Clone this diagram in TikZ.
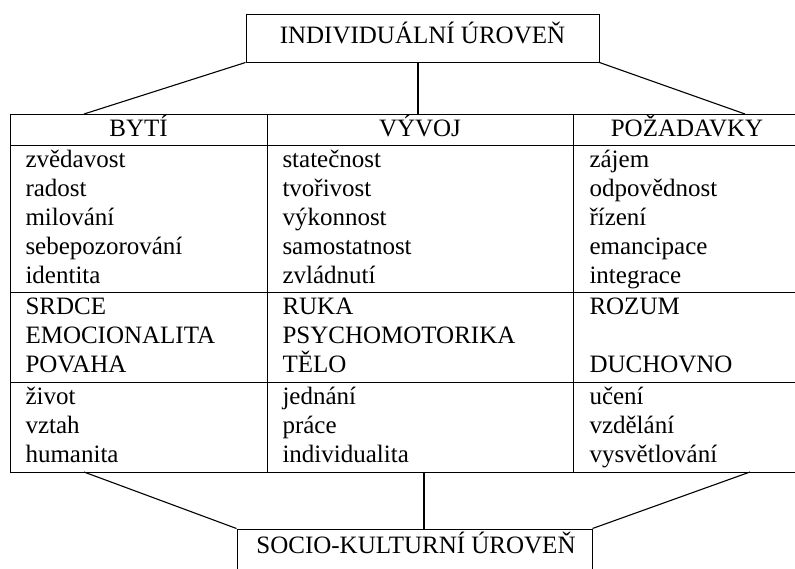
\documentclass[tikz,border=0pt]{standalone}
\usepackage{fontspec}
\setmainfont{Liberation Serif}
\begin{document}
\begin{tikzpicture}[x=1pt,y=-1pt,line width=1pt,
  txt/.style={font=\fontsize{25}{29}\selectfont,inner sep=0pt,anchor=base west},
  hdr/.style={font=\fontsize{25}{29}\selectfont,inner sep=0pt,anchor=base},
  lvlbox/.style={draw,inner sep=0pt,minimum height=48pt},
  conn/.style={line width=1.1pt}]
\useasboundingbox (0,0) rectangle (795,568);
\clip (0,0) rectangle (795,568);
% level boxes
\node[lvlbox,minimum width=353pt] (ind) at (422.5,38) {};
\node[hdr] (indt) at (422.5,43) {INDIVIDUÁLNÍ ÚROVEŇ};
\node[lvlbox,minimum width=355pt] (soc) at (414.5,553) {};
\node[hdr] (soct) at (416,553) {SOCIO-KULTURNÍ ÚROVEŇ};
% table
\draw (10,114) rectangle (801,472);
\draw (10,145) -- (801,145);
\draw (10,292) -- (801,292);
\draw (10,382) -- (801,382);
\draw (267,114) -- (267,472);
\draw (573,114) -- (573,472);
% connector ends
\coordinate (t1) at (84,114);
\coordinate (t2) at (418,114);
\coordinate (t3) at (745,114);
\coordinate (b1) at (84,472);
\coordinate (b2) at (424,472);
\coordinate (b3) at (750,472);
\draw[conn] (ind.south west) -- (t1);
\draw[conn] (t2 |- ind.south) -- (t2);
\draw[conn] (ind.south east) -- (t3);
\draw[conn] (b1) -- (soc.north west);
\draw[conn] (b2) -- (b2 |- soc.north);
\draw[conn] (b3) -- (soc.north east);
% headers
\node[hdr] (h1) at (138.5,136) {BYTÍ};
\node[hdr] (h2) at (420,136) {VÝVOJ};
\node[hdr] (h3) at (687,136) {POŽADAVKY};
% section 1
\foreach \t [count=\i] in {zvědavost,radost,milování,sebepozorování,identita}
  \node[txt] (a\i) at (25,{167+29*(\i-1)}) {\t};
\foreach \t [count=\i] in {statečnost,tvořivost,výkonnost,samostatnost,zvládnutí}
  \node[txt] (b\i) at (282,{167+29*(\i-1)}) {\t};
\foreach \t [count=\i] in {zájem,odpovědnost,řízení,emancipace,integrace}
  \node[txt] (c\i) at (589,{167+29*(\i-1)}) {\t};
% section 2
\foreach \t [count=\i] in {SRDCE,EMOCIONALITA,POVAHA}
  \node[txt] (d\i) at (25,{314+29*(\i-1)}) {\t};
\foreach \t [count=\i] in {RUKA,PSYCHOMOTORIKA,TĚLO}
  \node[txt] (e\i) at (282,{314+29*(\i-1)}) {\t};
\node[txt] (f1) at (589,314) {ROZUM};
\node[txt] (f3) at (589,372) {DUCHOVNO};
% section 3
\foreach \t [count=\i] in {život,vztah,humanita}
  \node[txt] (g\i) at (25,{404+29*(\i-1)}) {\t};
\foreach \t [count=\i] in {jednání,práce,individualita}
  \node[txt] (k\i) at (282,{404+29*(\i-1)}) {\t};
\foreach \t [count=\i] in {učení,vzdělání,vysvětlování}
  \node[txt] (m\i) at (589,{404+29*(\i-1)}) {\t};
\end{tikzpicture}
\end{document}
